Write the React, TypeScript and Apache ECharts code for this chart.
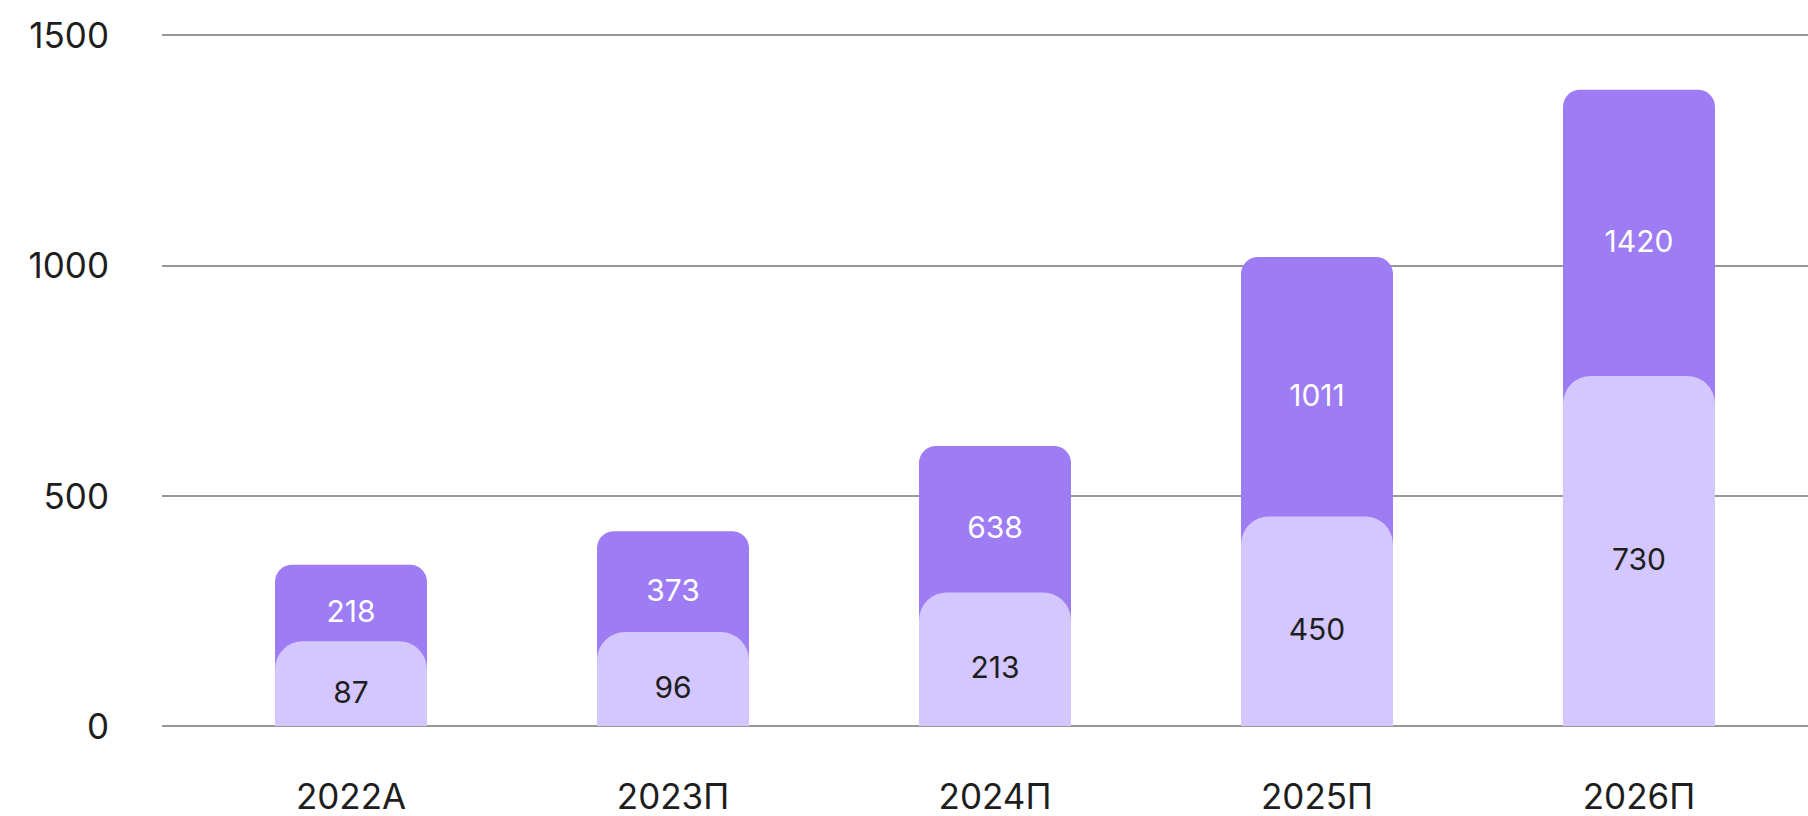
import React, { useEffect, useRef } from "react";
import * as echarts from "echarts";

// Categories
const categories = ["2022A", "2023П", "2024П", "2025П", "2026П"];
const backBarHeights = [350, 423, 608, 1018, 1381];
const frontBarHeights = [184, 204, 290, 455, 760];
// Values printed on the bars
const backLabels = ["218", "373", "638", "1011", "1420"];
const frontLabels = ["87", "96", "213", "450", "730"];
// Y axis ticks
const yMin = 0;
const yMax = 1500;
const yStep = 500;

const DARK = "#9d7cf4";
const LIGHT = "#d4c6ff";
const TEXT = "#1e1e1e";
const FONT = "Inter, 'Noto Sans', sans-serif";

export default function App() {
  const ref = useRef<HTMLDivElement>(null);

  useEffect(() => {
    if (!ref.current) return;
    const chart = echarts.init(ref.current, undefined, { renderer: "svg" });
    const gapHeights = backBarHeights.map((v, i) => v - frontBarHeights[i]);
    const top = 35;
    const bottom = 90;
    chart.setOption({
      animation: false,
      backgroundColor: "#ffffff",
      textStyle: { fontFamily: FONT },
      grid: [
        { left: 190, right: 8, top, bottom, containLabel: false },
        { left: 162, right: 0, top, bottom, containLabel: false },
      ],
      xAxis: [
        {
          type: "category",
          gridIndex: 0,
          data: categories,
          axisLine: { show: false },
          axisTick: { show: false },
          axisLabel: {
            color: TEXT,
            fontSize: 35,
            fontFamily: FONT,
            lineHeight: 28,
            margin: 56,
          },
        },
        { type: "value", gridIndex: 1, show: false, min: 0, max: 1 },
      ],
      yAxis: [
        {
          type: "value",
          gridIndex: 0,
          min: yMin,
          max: yMax,
          interval: yStep,
          show: false,
          splitLine: { show: false },
        },
        {
          type: "value",
          gridIndex: 1,
          min: yMin,
          max: yMax,
          interval: yStep,
          axisLine: { show: false },
          axisTick: { show: false },
          axisLabel: {
            color: TEXT,
            fontSize: 35,
            fontFamily: FONT,
            margin: 53,
            padding: [10, 0, 0, 0],
            formatter: (v: number) => String(v),
          },
          splitLine: { show: true, lineStyle: { color: "#747474", width: 1.5 } },
        },
      ],
      series: [
        {
          type: "bar",
          xAxisIndex: 0,
          yAxisIndex: 0,
          data: backBarHeights,
          barWidth: 152,
          barGap: "-100%",
          itemStyle: { color: DARK, borderRadius: [17, 17, 0, 0] },
          silent: true,
        },
        {
          type: "bar",
          xAxisIndex: 0,
          yAxisIndex: 0,
          data: frontBarHeights,
          barWidth: 152,
          barGap: "-100%",
          itemStyle: { color: LIGHT, borderRadius: [28, 28, 0, 0] },
          label: {
            show: true,
            position: "inside",
            offset: [0, 8],
            color: TEXT,
            fontSize: 30,
            fontFamily: FONT,
            formatter: (p: any) => frontLabels[p.dataIndex],
          },
          silent: true,
        },
        {
          type: "bar",
          xAxisIndex: 0,
          yAxisIndex: 0,
          stack: "lbl",
          data: frontBarHeights,
          barWidth: 152,
          barGap: "-100%",
          itemStyle: { color: "rgba(0,0,0,0)" },
          silent: true,
        },
        {
          type: "bar",
          xAxisIndex: 0,
          yAxisIndex: 0,
          stack: "lbl",
          data: gapHeights,
          barWidth: 152,
          barGap: "-100%",
          itemStyle: { color: "rgba(0,0,0,0)" },
          label: {
            show: true,
            position: "inside",
            offset: [0, 8],
            color: "#ffffff",
            fontSize: 30,
            fontFamily: FONT,
            formatter: (p: any) => backLabels[p.dataIndex],
          },
          silent: true,
        },
      ],
    });
    return () => chart.dispose();
  }, []);

  return (
    <div
      ref={ref}
      style={{ position: "absolute", left: 0, top: 0, width: 1808, height: 816 }}
    />
  );
}
